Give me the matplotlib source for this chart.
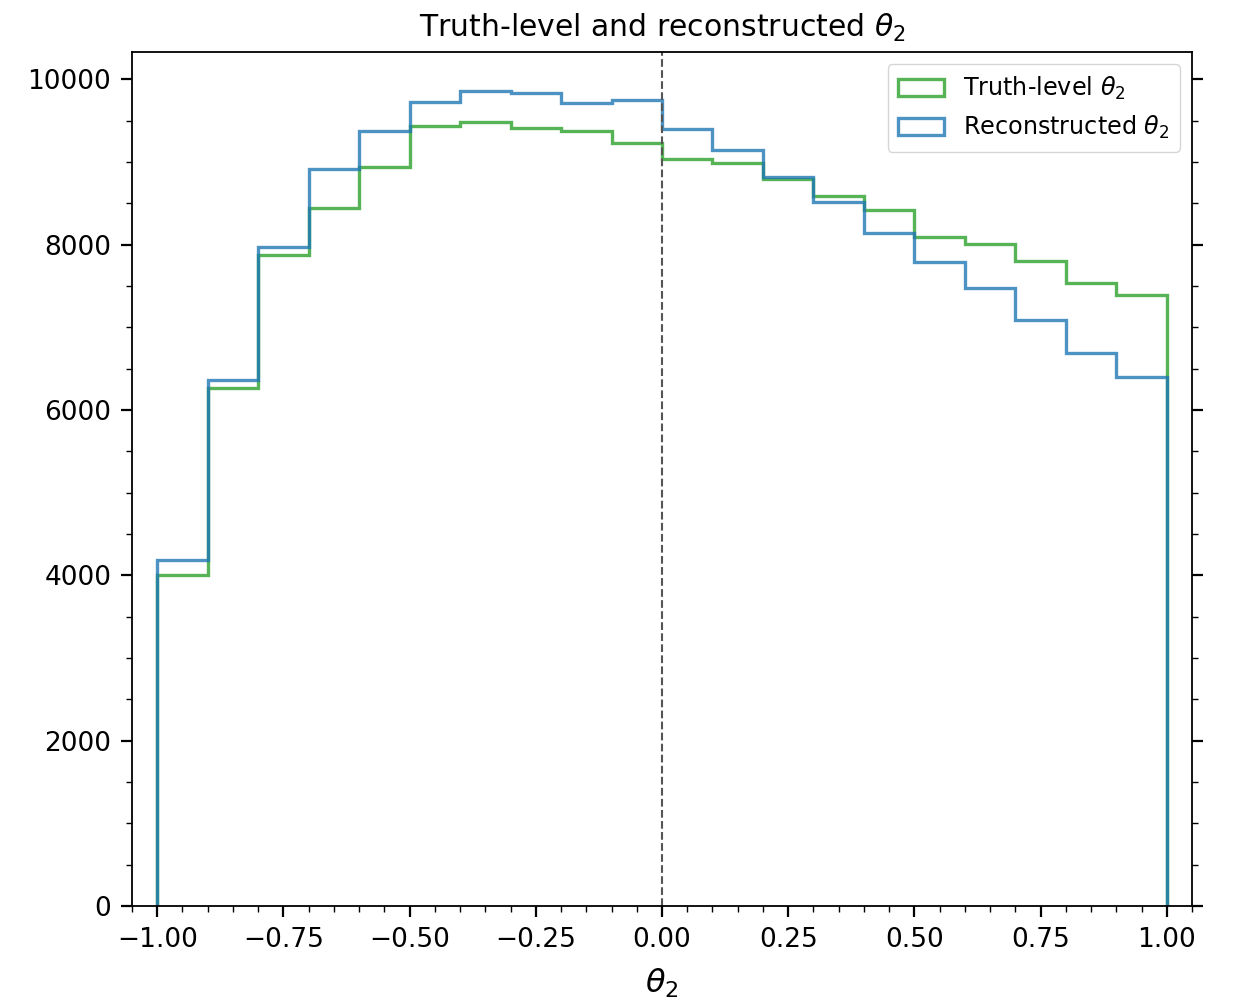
import numpy as np
import matplotlib.pyplot as plt
from matplotlib.ticker import MultipleLocator

# bin edges and counts
edges = np.linspace(-1.0, 1.0, 21)
truth = [4000, 6260, 7870, 8447, 8940, 9432, 9480, 9415, 9375, 9225,
         9030, 8985, 8795, 8585, 8415, 8093, 8013, 7803, 7540, 7391]
reco = [4190, 6360, 7972, 8920, 9375, 9727, 9855, 9835, 9710, 9750,
        9400, 9150, 8820, 8510, 8140, 7787, 7473, 7083, 6687, 6397]
xticks = [-1.0, -0.75, -0.5, -0.25, 0.0, 0.25, 0.5, 0.75, 1.0]

fig = plt.figure(figsize=(12.35, 10.07), dpi=100)
ax = fig.add_axes([0.1069, 0.1003, 0.8583, 0.8481])

centers = 0.5 * (edges[:-1] + edges[1:])
ax.hist(centers, bins=edges, weights=truth, histtype='step', color='#2ca02c',
        alpha=0.8, linewidth=2.4, label=r'Truth-level $\theta_2$')
ax.hist(centers, bins=edges, weights=reco, histtype='step', color='#1f77b4',
        alpha=0.8, linewidth=2.4, label=r'Reconstructed $\theta_2$')

ax.axvline(0, color='#555555', linestyle='--', linewidth=1.5)

ax.set_xlim(-1.05, 1.05)
ax.set_ylim(0, 10330)
ax.set_xticks(xticks)
ax.xaxis.set_minor_locator(MultipleLocator(0.05))
ax.yaxis.set_major_locator(MultipleLocator(2000))
ax.yaxis.set_minor_locator(MultipleLocator(500))
ax.tick_params(which='both', direction='out', right=True, top=False, labelsize=19)
ax.tick_params(which='major', length=8, width=1.6, pad=7)
ax.tick_params(which='minor', length=4, width=1.0)
for s in ax.spines.values():
    s.set_linewidth(1.3)

ax.set_title(r'Truth-level and reconstructed $\theta_2$', fontsize=21.5, pad=11)
ax.set_xlabel(r'$\theta_2$', fontsize=23, labelpad=10)
ax.legend(loc='upper right', fontsize=17.2, handlelength=1.9, borderpad=0.45)

fig.savefig('out.png', dpi=100)
